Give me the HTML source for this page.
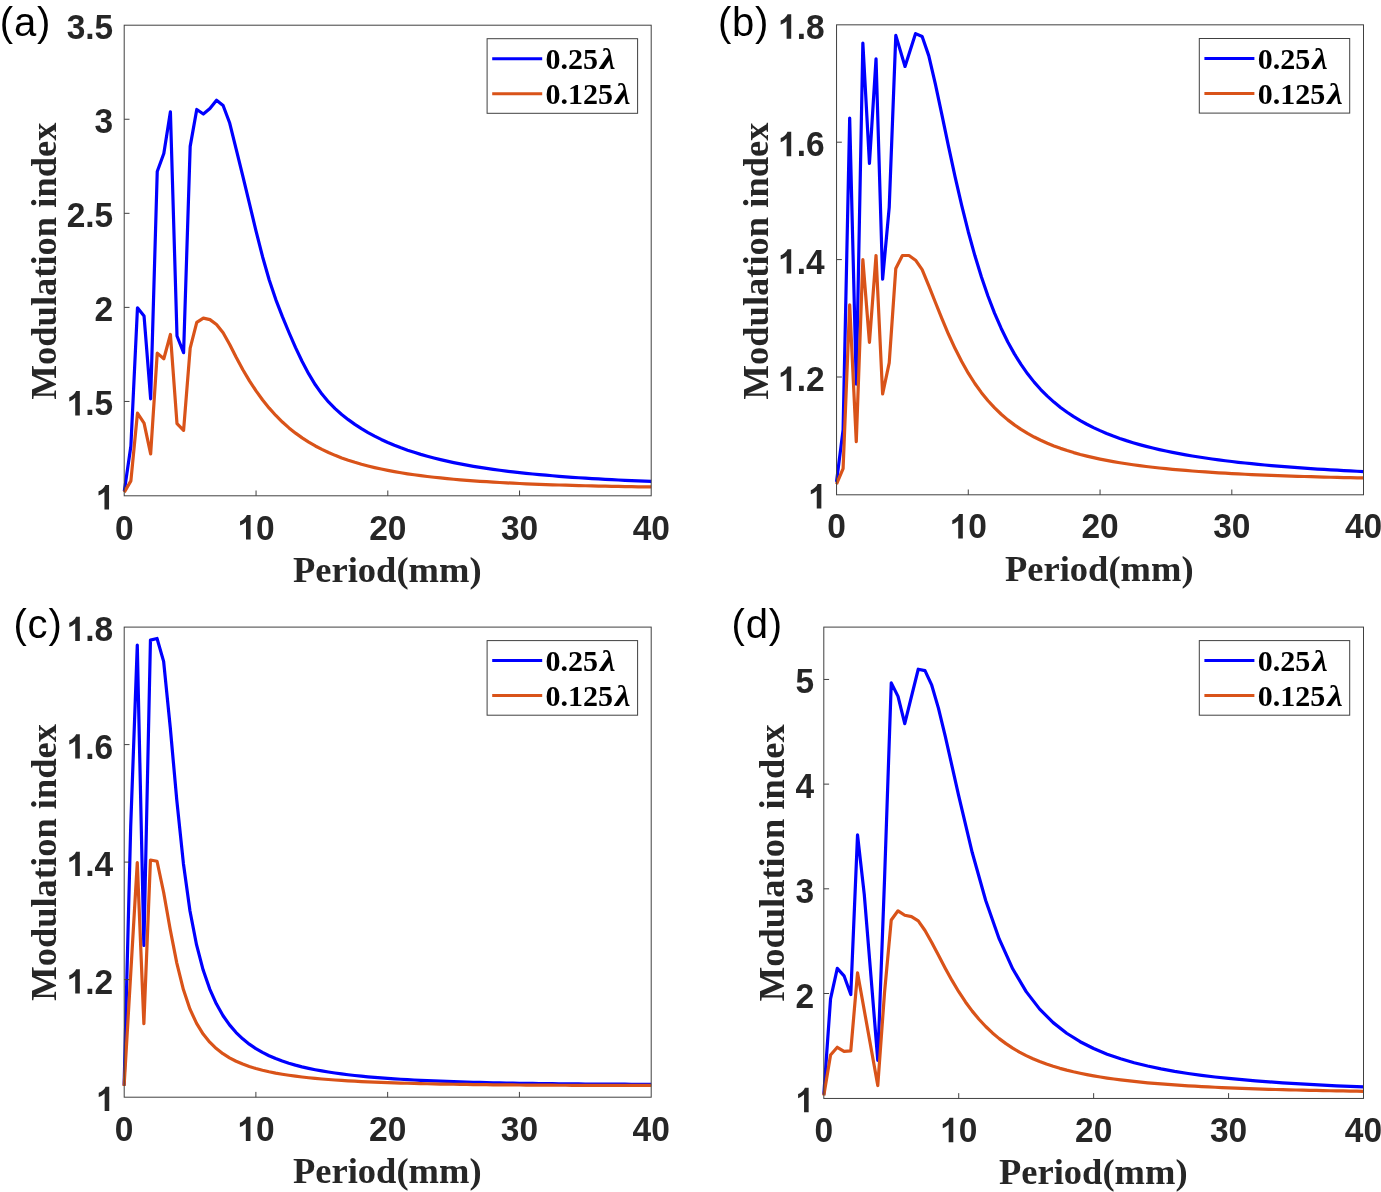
<!DOCTYPE html>
<html lang="en">
<head>
<meta charset="utf-8">
<title>Modulation index vs period</title>
<style>
html,body{margin:0;padding:0;background:#fff;}
body{width:1381px;height:1192px;overflow:hidden;font-family:"Liberation Sans",sans-serif;}
svg{display:block;will-change:transform;}
text{white-space:pre;}
</style>
</head>
<body>
<svg width="1381" height="1192" viewBox="0 0 1381 1192">
<rect x="0" y="0" width="1381" height="1192" fill="#ffffff"/>
<clipPath id="clipa"><rect x="121.80" y="24.70" width="530.00" height="471.30"/></clipPath>
<polyline clip-path="url(#clipa)" points="124.30,491.17 130.89,446.02 137.47,307.76 144.06,316.03 150.65,398.81 157.24,171.56 163.82,153.50 170.41,111.74 177.00,335.97 183.59,352.72 190.18,146.35 196.76,109.48 203.35,113.99 209.94,108.54 216.53,100.26 223.11,105.53 229.70,123.02 236.29,149.53 242.88,176.32 249.46,203.59 256.05,231.03 262.64,256.96 269.23,279.98 275.81,299.59 282.40,316.66 288.99,332.50 295.57,347.58 302.16,361.50 308.75,373.94 315.34,384.80 321.93,394.09 328.51,401.93 335.10,408.61 341.69,414.45 348.28,419.67 354.86,424.39 361.45,428.68 368.04,432.59 374.62,436.16 381.21,439.44 387.80,442.45 394.39,445.23 400.98,447.79 407.56,450.16 414.15,452.35 420.74,454.39 427.33,456.27 433.91,458.03 440.50,459.66 447.09,461.17 453.68,462.59 460.26,463.91 466.85,465.15 473.44,466.30 480.03,467.39 486.61,468.40 493.20,469.35 499.79,470.25 506.38,471.09 512.96,471.88 519.55,472.63 526.14,473.33 532.73,473.99 539.31,474.62 545.90,475.21 552.49,475.77 559.08,476.30 565.66,476.80 572.25,477.28 578.84,477.73 585.42,478.16 592.01,478.56 598.60,478.95 605.19,479.31 611.77,479.66 618.36,479.99 624.95,480.31 631.54,480.61 638.12,480.89 644.71,481.17 651.30,481.42" fill="none" stroke="#0000ff" stroke-width="3.20" stroke-linejoin="round" stroke-linecap="butt"/>
<polyline clip-path="url(#clipa)" points="124.30,492.30 130.89,480.83 137.47,413.10 144.06,423.07 150.65,453.93 157.24,353.09 163.82,358.74 170.41,334.47 177.00,423.64 183.59,430.41 190.18,348.20 196.76,322.43 203.35,318.10 209.94,319.61 216.53,324.50 223.11,332.78 229.70,344.44 236.29,357.59 242.88,369.75 249.46,380.86 256.05,390.92 262.64,399.99 269.23,408.14 275.81,415.45 282.40,422.01 288.99,427.89 295.57,433.16 302.16,437.89 308.75,442.14 315.34,445.97 321.93,449.42 328.51,452.54 335.10,455.35 341.69,457.91 348.28,460.22 354.86,462.33 361.45,464.25 368.04,465.99 374.62,467.59 381.21,469.06 387.80,470.40 394.39,471.63 400.98,472.77 407.56,473.81 414.15,474.78 420.74,475.67 427.33,476.49 433.91,477.25 440.50,477.96 447.09,478.62 453.68,479.23 460.26,479.80 466.85,480.33 473.44,480.83 480.03,481.29 486.61,481.72 493.20,482.12 499.79,482.50 506.38,482.86 512.96,483.19 519.55,483.50 526.14,483.79 532.73,484.07 539.31,484.32 545.90,484.57 552.49,484.79 559.08,485.01 565.66,485.21 572.25,485.40 578.84,485.58 585.42,485.75 592.01,485.91 598.60,486.06 605.19,486.20 611.77,486.33 618.36,486.45 624.95,486.57 631.54,486.68 638.12,486.78 644.71,486.88 651.30,486.97" fill="none" stroke="#d95319" stroke-width="3.20" stroke-linejoin="round" stroke-linecap="butt"/>
<rect x="124.20" y="25.20" width="527.00" height="470.60" fill="none" stroke="#404040" stroke-width="1.00" stroke-opacity="1.00"/>
<path d="M256.05 495.80V490.50M387.80 495.80V490.50M519.55 495.80V490.50M124.20 401.44H129.50M124.20 307.38H129.50M124.20 213.32H129.50M124.20 119.26H129.50" fill="none" stroke="#404040" stroke-width="1.00" stroke-opacity="1.00"/>
<g font-family="'Liberation Sans', sans-serif" font-weight="700" font-size="34.0px" fill="#262626">
<text transform="translate(114.99 539.50) scale(0.985 1.045)">0</text>
<path transform="translate(237.42 539.50) scale(33.490 -34.000)" d="M0.3936 0H0.2563V0.5171Q0.1812 0.4468 0.0791 0.4126V0.5371Q0.1328 0.5547 0.1958 0.6038Q0.2588 0.6528 0.2822 0.7188H0.3936Z"/><text transform="translate(256.05 539.50) scale(0.985 1.045)">0</text>
<text transform="translate(369.17 539.50) scale(0.985 1.045)">2</text><text transform="translate(387.80 539.50) scale(0.985 1.045)">0</text>
<text transform="translate(500.92 539.50) scale(0.985 1.045)">3</text><text transform="translate(519.55 539.50) scale(0.985 1.045)">0</text>
<text transform="translate(632.67 539.50) scale(0.985 1.045)">4</text><text transform="translate(651.30 539.50) scale(0.985 1.045)">0</text>
<path transform="translate(95.87 509.50) scale(33.490 -34.000)" d="M0.3936 0H0.2563V0.5171Q0.1812 0.4468 0.0791 0.4126V0.5371Q0.1328 0.5547 0.1958 0.6038Q0.2588 0.6528 0.2822 0.7188H0.3936Z"/>
<path transform="translate(66.64 415.44) scale(33.490 -34.000)" d="M0.3936 0H0.2563V0.5171Q0.1812 0.4468 0.0791 0.4126V0.5371Q0.1328 0.5547 0.1958 0.6038Q0.2588 0.6528 0.2822 0.7188H0.3936Z"/><text transform="translate(85.27 415.44) scale(0.985 1.045)">.</text><text transform="translate(94.57 415.44) scale(0.985 1.045)">5</text>
<text transform="translate(94.57 321.38) scale(0.985 1.045)">2</text>
<text transform="translate(66.64 227.32) scale(0.985 1.045)">2</text><text transform="translate(85.27 227.32) scale(0.985 1.045)">.</text><text transform="translate(94.57 227.32) scale(0.985 1.045)">5</text>
<text transform="translate(94.57 133.26) scale(0.985 1.045)">3</text>
<text transform="translate(66.64 39.20) scale(0.985 1.045)">3</text><text transform="translate(85.27 39.20) scale(0.985 1.045)">.</text><text transform="translate(94.57 39.20) scale(0.985 1.045)">5</text>
</g>
<g font-family="'Liberation Serif', serif" font-weight="700" font-size="36.5px" fill="#262626">
<text x="387.30" y="581.70" text-anchor="middle">Period(mm)</text>
<text transform="translate(55.80 261.00) rotate(-90)" text-anchor="middle">Modulation index</text>
</g>
<text x="-0.20" y="35.80" font-family="'Liberation Sans', sans-serif" font-size="40.0px" letter-spacing="0.8" fill="#000">(a)</text>
<rect x="487.10" y="38.70" width="150.50" height="74.60" fill="#fff" stroke="#404040" stroke-width="1.00" stroke-opacity="1.00"/>
<path d="M492.20 58.65H542.20" stroke="#0000ff" stroke-width="3" fill="none"/>
<path d="M492.20 93.65H542.20" stroke="#d95319" stroke-width="3" fill="none"/>
<g font-family="'Liberation Serif', serif" font-weight="700" font-size="30.0px" fill="#000">
<text x="545.50" y="69.05">0.25</text>
<text x="545.50" y="104.05">0.125</text>
<text transform="translate(600.00 69.05) scale(1.17 1)" font-style="italic">λ</text>
<text transform="translate(615.00 104.05) scale(1.17 1)" font-style="italic">λ</text>
</g>
<clipPath id="clipb"><rect x="834.00" y="24.30" width="530.10" height="470.60"/></clipPath>
<polyline clip-path="url(#clipb)" points="836.50,481.90 843.09,429.83 849.68,118.13 856.27,384.04 862.86,43.00 869.44,163.33 876.03,58.85 882.62,279.21 889.21,207.36 895.80,35.37 905.02,66.48 915.57,33.61 922.15,36.54 928.74,55.62 935.33,83.84 941.92,114.87 948.51,146.36 955.10,176.82 961.69,205.41 968.27,231.72 974.86,255.59 981.45,277.06 988.04,296.24 994.63,313.32 1001.22,328.48 1007.81,341.93 1014.40,353.86 1020.99,364.43 1027.57,373.80 1034.16,382.13 1040.75,389.53 1047.34,396.15 1053.93,402.09 1060.52,407.43 1067.11,412.26 1073.69,416.64 1080.28,420.63 1086.87,424.26 1093.46,427.59 1100.05,430.64 1106.64,433.44 1113.23,436.03 1119.82,438.42 1126.40,440.63 1132.99,442.68 1139.58,444.59 1146.17,446.36 1152.76,448.02 1159.35,449.57 1165.94,451.02 1172.53,452.37 1179.12,453.65 1185.70,454.85 1192.29,455.97 1198.88,457.04 1205.47,458.04 1212.06,458.98 1218.65,459.88 1225.24,460.73 1231.82,461.53 1238.41,462.29 1245.00,463.01 1251.59,463.70 1258.18,464.35 1264.77,464.98 1271.36,465.57 1277.95,466.13 1284.53,466.67 1291.12,467.19 1297.71,467.68 1304.30,468.15 1310.89,468.60 1317.48,469.03 1324.07,469.44 1330.66,469.84 1337.24,470.22 1343.83,470.58 1350.42,470.93 1357.01,471.27 1363.60,471.59" fill="none" stroke="#0000ff" stroke-width="3.20" stroke-linejoin="round" stroke-linecap="butt"/>
<polyline clip-path="url(#clipb)" points="836.50,484.24 843.09,468.57 849.68,304.80 856.27,441.57 862.86,259.60 869.44,342.37 876.03,255.49 882.62,394.02 889.21,362.91 895.80,268.41 902.39,255.49 908.98,255.49 915.57,260.19 922.15,269.58 928.74,285.66 935.33,302.28 941.92,318.71 948.51,334.26 955.10,348.58 961.69,361.55 968.27,373.17 974.86,383.51 981.45,392.66 988.04,400.75 994.63,407.89 1001.22,414.23 1007.81,419.86 1014.40,424.88 1020.99,429.37 1027.57,433.40 1034.16,437.03 1040.75,440.29 1047.34,443.25 1053.93,445.93 1060.52,448.36 1067.11,450.57 1073.69,452.59 1080.28,454.44 1086.87,456.13 1093.46,457.68 1100.05,459.11 1106.64,460.42 1113.23,461.64 1119.82,462.76 1126.40,463.79 1132.99,464.76 1139.58,465.65 1146.17,466.49 1152.76,467.26 1159.35,467.99 1165.94,468.67 1172.53,469.30 1179.12,469.90 1185.70,470.46 1192.29,470.98 1198.88,471.48 1205.47,471.94 1212.06,472.38 1218.65,472.80 1225.24,473.19 1231.82,473.56 1238.41,473.90 1245.00,474.23 1251.59,474.55 1258.18,474.84 1264.77,475.12 1271.36,475.39 1277.95,475.64 1284.53,475.88 1291.12,476.10 1297.71,476.32 1304.30,476.52 1310.89,476.72 1317.48,476.90 1324.07,477.08 1330.66,477.24 1337.24,477.40 1343.83,477.55 1350.42,477.70 1357.01,477.83 1363.60,477.96" fill="none" stroke="#d95319" stroke-width="3.20" stroke-linejoin="round" stroke-linecap="butt"/>
<rect x="836.55" y="24.83" width="526.95" height="469.97" fill="none" stroke="#404040" stroke-width="1.00" stroke-opacity="1.00"/>
<path d="M968.27 494.80V489.50M1100.05 494.80V489.50M1231.82 494.80V489.50M836.55 377.00H841.85M836.55 259.60H841.85M836.55 142.20H841.85" fill="none" stroke="#404040" stroke-width="1.00" stroke-opacity="1.00"/>
<g font-family="'Liberation Sans', sans-serif" font-weight="700" font-size="34.0px" fill="#262626">
<text transform="translate(827.19 538.40) scale(0.985 1.045)">0</text>
<path transform="translate(949.65 538.40) scale(33.490 -34.000)" d="M0.3936 0H0.2563V0.5171Q0.1812 0.4468 0.0791 0.4126V0.5371Q0.1328 0.5547 0.1958 0.6038Q0.2588 0.6528 0.2822 0.7188H0.3936Z"/><text transform="translate(968.28 538.40) scale(0.985 1.045)">0</text>
<text transform="translate(1081.42 538.40) scale(0.985 1.045)">2</text><text transform="translate(1100.05 538.40) scale(0.985 1.045)">0</text>
<text transform="translate(1213.20 538.40) scale(0.985 1.045)">3</text><text transform="translate(1231.82 538.40) scale(0.985 1.045)">0</text>
<text transform="translate(1344.97 538.40) scale(0.985 1.045)">4</text><text transform="translate(1363.60 538.40) scale(0.985 1.045)">0</text>
<path transform="translate(808.17 508.40) scale(33.490 -34.000)" d="M0.3936 0H0.2563V0.5171Q0.1812 0.4468 0.0791 0.4126V0.5371Q0.1328 0.5547 0.1958 0.6038Q0.2588 0.6528 0.2822 0.7188H0.3936Z"/>
<path transform="translate(778.04 391.00) scale(33.490 -34.000)" d="M0.3936 0H0.2563V0.5171Q0.1812 0.4468 0.0791 0.4126V0.5371Q0.1328 0.5547 0.1958 0.6038Q0.2588 0.6528 0.2822 0.7188H0.3936Z"/><text transform="translate(796.67 391.00) scale(0.985 1.045)">.</text><text transform="translate(805.97 391.00) scale(0.985 1.045)">2</text>
<path transform="translate(778.04 273.60) scale(33.490 -34.000)" d="M0.3936 0H0.2563V0.5171Q0.1812 0.4468 0.0791 0.4126V0.5371Q0.1328 0.5547 0.1958 0.6038Q0.2588 0.6528 0.2822 0.7188H0.3936Z"/><text transform="translate(796.67 273.60) scale(0.985 1.045)">.</text><text transform="translate(805.97 273.60) scale(0.985 1.045)">4</text>
<path transform="translate(778.04 156.20) scale(33.490 -34.000)" d="M0.3936 0H0.2563V0.5171Q0.1812 0.4468 0.0791 0.4126V0.5371Q0.1328 0.5547 0.1958 0.6038Q0.2588 0.6528 0.2822 0.7188H0.3936Z"/><text transform="translate(796.67 156.20) scale(0.985 1.045)">.</text><text transform="translate(805.97 156.20) scale(0.985 1.045)">6</text>
<path transform="translate(778.04 38.80) scale(33.490 -34.000)" d="M0.3936 0H0.2563V0.5171Q0.1812 0.4468 0.0791 0.4126V0.5371Q0.1328 0.5547 0.1958 0.6038Q0.2588 0.6528 0.2822 0.7188H0.3936Z"/><text transform="translate(796.67 38.80) scale(0.985 1.045)">.</text><text transform="translate(805.97 38.80) scale(0.985 1.045)">8</text>
</g>
<g font-family="'Liberation Serif', serif" font-weight="700" font-size="36.5px" fill="#262626">
<text x="1099.30" y="581.10" text-anchor="middle">Period(mm)</text>
<text transform="translate(767.90 261.00) rotate(-90)" text-anchor="middle">Modulation index</text>
</g>
<text x="717.90" y="35.70" font-family="'Liberation Sans', sans-serif" font-size="40.0px" letter-spacing="0.8" fill="#000">(b)</text>
<rect x="1199.30" y="38.50" width="150.40" height="74.60" fill="#fff" stroke="#404040" stroke-width="1.00" stroke-opacity="1.00"/>
<path d="M1204.40 58.45H1254.40" stroke="#0000ff" stroke-width="3" fill="none"/>
<path d="M1204.40 93.45H1254.40" stroke="#d95319" stroke-width="3" fill="none"/>
<g font-family="'Liberation Serif', serif" font-weight="700" font-size="30.0px" fill="#000">
<text x="1257.70" y="68.85">0.25</text>
<text x="1257.70" y="103.85">0.125</text>
<text transform="translate(1312.20 68.85) scale(1.17 1)" font-style="italic">λ</text>
<text transform="translate(1327.20 103.85) scale(1.17 1)" font-style="italic">λ</text>
</g>
<clipPath id="clipc"><rect x="121.60" y="626.60" width="530.10" height="471.00"/></clipPath>
<polyline clip-path="url(#clipc)" points="124.10,1085.35 130.69,826.85 137.28,645.14 143.87,945.52 150.45,640.14 157.04,638.50 163.63,661.41 170.22,726.98 176.81,800.41 183.40,863.45 189.99,910.95 196.58,944.95 203.16,970.04 209.75,989.07 216.34,1003.82 222.93,1015.49 229.52,1024.87 236.11,1032.53 242.70,1038.86 249.29,1044.15 255.88,1048.63 262.46,1052.44 269.05,1055.72 275.64,1058.56 282.23,1061.04 288.82,1063.21 295.41,1065.13 302.00,1066.83 308.59,1068.34 315.17,1069.70 321.76,1070.92 328.35,1072.02 334.94,1073.01 341.53,1073.91 348.12,1074.73 354.71,1075.48 361.29,1076.16 367.88,1076.79 374.47,1077.36 381.06,1077.89 387.65,1078.38 394.24,1078.83 400.83,1079.25 407.42,1079.63 414.00,1079.99 420.59,1080.32 427.18,1080.63 433.77,1080.92 440.36,1081.18 446.95,1081.43 453.54,1081.66 460.13,1081.88 466.72,1082.08 473.30,1082.26 479.89,1082.44 486.48,1082.60 493.07,1082.75 499.66,1082.89 506.25,1083.02 512.84,1083.14 519.42,1083.26 526.01,1083.36 532.60,1083.46 539.19,1083.55 545.78,1083.63 552.37,1083.71 558.96,1083.78 565.55,1083.85 572.13,1083.90 578.72,1083.96 585.31,1084.01 591.90,1084.05 598.49,1084.09 605.08,1084.13 611.67,1084.16 618.26,1084.18 624.85,1084.21 631.43,1084.23 638.02,1084.24 644.61,1084.25 651.20,1084.26" fill="none" stroke="#0000ff" stroke-width="3.20" stroke-linejoin="round" stroke-linecap="butt"/>
<polyline clip-path="url(#clipc)" points="124.10,1086.00 137.28,862.57 143.87,1023.66 150.45,860.04 157.04,861.22 163.63,892.24 170.22,929.47 176.81,963.08 183.40,989.55 189.99,1009.15 196.58,1023.42 203.16,1034.06 209.75,1042.20 216.34,1048.59 222.93,1053.68 229.52,1057.82 236.11,1061.23 242.70,1064.08 249.29,1066.48 255.88,1068.52 262.46,1070.27 269.05,1071.79 275.64,1073.11 282.23,1074.27 288.82,1075.29 295.41,1076.20 302.00,1077.01 308.59,1077.74 315.17,1078.39 321.76,1078.98 328.35,1079.51 334.94,1080.00 341.53,1080.44 348.12,1080.84 354.71,1081.21 361.29,1081.55 367.88,1081.86 374.47,1082.14 381.06,1082.41 387.65,1082.65 394.24,1082.87 400.83,1083.08 407.42,1083.27 414.00,1083.45 420.59,1083.61 427.18,1083.76 433.77,1083.90 440.36,1084.04 446.95,1084.16 453.54,1084.27 460.13,1084.37 466.72,1084.47 473.30,1084.56 479.89,1084.64 486.48,1084.72 493.07,1084.79 499.66,1084.86 506.25,1084.92 512.84,1084.97 519.42,1085.02 526.01,1085.07 532.60,1085.11 539.19,1085.15 545.78,1085.18 552.37,1085.21 558.96,1085.24 565.55,1085.26 572.13,1085.29 578.72,1085.30 585.31,1085.32 591.90,1085.33 598.49,1085.34 605.08,1085.35 611.67,1085.36 618.26,1085.36 624.85,1085.36 631.43,1085.36 638.02,1085.36 644.61,1085.35 651.20,1085.35" fill="none" stroke="#d95319" stroke-width="3.20" stroke-linejoin="round" stroke-linecap="butt"/>
<rect x="124.20" y="627.10" width="527.00" height="470.10" fill="none" stroke="#404040" stroke-width="1.00" stroke-opacity="1.00"/>
<path d="M255.88 1097.20V1091.90M387.65 1097.20V1091.90M519.42 1097.20V1091.90M124.20 979.60H129.50M124.20 862.10H129.50M124.20 744.60H129.50" fill="none" stroke="#404040" stroke-width="1.00" stroke-opacity="1.00"/>
<g font-family="'Liberation Sans', sans-serif" font-weight="700" font-size="34.0px" fill="#262626">
<text transform="translate(114.79 1141.10) scale(0.985 1.045)">0</text>
<path transform="translate(237.25 1141.10) scale(33.490 -34.000)" d="M0.3936 0H0.2563V0.5171Q0.1812 0.4468 0.0791 0.4126V0.5371Q0.1328 0.5547 0.1958 0.6038Q0.2588 0.6528 0.2822 0.7188H0.3936Z"/><text transform="translate(255.88 1141.10) scale(0.985 1.045)">0</text>
<text transform="translate(369.02 1141.10) scale(0.985 1.045)">2</text><text transform="translate(387.65 1141.10) scale(0.985 1.045)">0</text>
<text transform="translate(500.80 1141.10) scale(0.985 1.045)">3</text><text transform="translate(519.42 1141.10) scale(0.985 1.045)">0</text>
<text transform="translate(632.57 1141.10) scale(0.985 1.045)">4</text><text transform="translate(651.20 1141.10) scale(0.985 1.045)">0</text>
<path transform="translate(96.07 1111.10) scale(33.490 -34.000)" d="M0.3936 0H0.2563V0.5171Q0.1812 0.4468 0.0791 0.4126V0.5371Q0.1328 0.5547 0.1958 0.6038Q0.2588 0.6528 0.2822 0.7188H0.3936Z"/>
<path transform="translate(66.64 993.60) scale(33.490 -34.000)" d="M0.3936 0H0.2563V0.5171Q0.1812 0.4468 0.0791 0.4126V0.5371Q0.1328 0.5547 0.1958 0.6038Q0.2588 0.6528 0.2822 0.7188H0.3936Z"/><text transform="translate(85.27 993.60) scale(0.985 1.045)">.</text><text transform="translate(94.57 993.60) scale(0.985 1.045)">2</text>
<path transform="translate(66.64 876.10) scale(33.490 -34.000)" d="M0.3936 0H0.2563V0.5171Q0.1812 0.4468 0.0791 0.4126V0.5371Q0.1328 0.5547 0.1958 0.6038Q0.2588 0.6528 0.2822 0.7188H0.3936Z"/><text transform="translate(85.27 876.10) scale(0.985 1.045)">.</text><text transform="translate(94.57 876.10) scale(0.985 1.045)">4</text>
<path transform="translate(66.64 758.60) scale(33.490 -34.000)" d="M0.3936 0H0.2563V0.5171Q0.1812 0.4468 0.0791 0.4126V0.5371Q0.1328 0.5547 0.1958 0.6038Q0.2588 0.6528 0.2822 0.7188H0.3936Z"/><text transform="translate(85.27 758.60) scale(0.985 1.045)">.</text><text transform="translate(94.57 758.60) scale(0.985 1.045)">6</text>
<path transform="translate(66.64 641.10) scale(33.490 -34.000)" d="M0.3936 0H0.2563V0.5171Q0.1812 0.4468 0.0791 0.4126V0.5371Q0.1328 0.5547 0.1958 0.6038Q0.2588 0.6528 0.2822 0.7188H0.3936Z"/><text transform="translate(85.27 641.10) scale(0.985 1.045)">.</text><text transform="translate(94.57 641.10) scale(0.985 1.045)">8</text>
</g>
<g font-family="'Liberation Serif', serif" font-weight="700" font-size="36.5px" fill="#262626">
<text x="387.30" y="1182.90" text-anchor="middle">Period(mm)</text>
<text transform="translate(55.90 862.40) rotate(-90)" text-anchor="middle">Modulation index</text>
</g>
<text x="13.50" y="638.00" font-family="'Liberation Sans', sans-serif" font-size="40.0px" letter-spacing="0.8" fill="#000">(c)</text>
<rect x="487.10" y="640.60" width="150.50" height="74.60" fill="#fff" stroke="#404040" stroke-width="1.00" stroke-opacity="1.00"/>
<path d="M492.20 660.55H542.20" stroke="#0000ff" stroke-width="3" fill="none"/>
<path d="M492.20 695.55H542.20" stroke="#d95319" stroke-width="3" fill="none"/>
<g font-family="'Liberation Serif', serif" font-weight="700" font-size="30.0px" fill="#000">
<text x="545.50" y="670.95">0.25</text>
<text x="545.50" y="705.95">0.125</text>
<text transform="translate(600.00 670.95) scale(1.17 1)" font-style="italic">λ</text>
<text transform="translate(615.00 705.95) scale(1.17 1)" font-style="italic">λ</text>
</g>
<clipPath id="clipd"><rect x="821.30" y="626.60" width="542.70" height="472.10"/></clipPath>
<polyline clip-path="url(#clipd)" points="823.80,1094.54 830.55,998.95 837.29,968.39 844.04,975.82 850.78,994.56 857.53,834.91 864.28,894.58 871.02,976.76 877.77,1060.35 884.52,879.92 891.26,682.90 898.01,696.40 904.75,723.62 911.50,696.40 918.25,669.24 924.99,670.65 931.74,685.20 938.49,708.36 945.23,736.02 958.72,795.88 972.22,852.53 985.71,900.54 999.20,938.96 1012.69,968.79 1026.19,991.64 1039.68,1009.11 1053.17,1022.63 1066.66,1033.25 1080.16,1041.71 1093.65,1048.55 1107.14,1054.17 1120.63,1058.82 1134.13,1062.73 1147.62,1066.05 1161.11,1068.89 1174.61,1071.34 1188.10,1073.47 1201.59,1075.33 1215.08,1076.97 1228.58,1078.42 1242.07,1079.71 1255.56,1080.87 1269.05,1081.91 1282.55,1082.85 1296.04,1083.70 1309.53,1084.47 1323.02,1085.18 1336.51,1085.82 1350.01,1086.42 1363.50,1086.96" fill="none" stroke="#0000ff" stroke-width="3.20" stroke-linejoin="round" stroke-linecap="butt"/>
<polyline clip-path="url(#clipd)" points="823.80,1095.58 830.55,1054.96 837.29,1047.27 844.04,1051.30 850.78,1050.88 857.53,972.78 877.77,1085.53 884.52,992.88 891.26,919.97 898.01,910.81 904.75,915.28 911.50,916.68 918.25,920.86 924.99,930.46 931.74,942.44 938.49,955.33 945.23,968.17 951.98,980.40 958.72,991.70 965.47,1001.95 972.22,1011.12 978.96,1019.27 985.71,1026.51 992.46,1032.93 999.20,1038.61 1005.95,1043.65 1012.69,1048.11 1019.44,1052.08 1026.19,1055.61 1032.93,1058.75 1039.68,1061.56 1046.43,1064.07 1053.17,1066.32 1059.92,1068.34 1066.66,1070.16 1073.41,1071.81 1080.16,1073.30 1086.90,1074.66 1093.65,1075.90 1100.40,1077.03 1107.14,1078.07 1113.89,1079.03 1120.63,1079.90 1127.38,1080.71 1134.13,1081.46 1140.87,1082.15 1147.62,1082.80 1154.37,1083.39 1161.11,1083.95 1167.86,1084.46 1174.61,1084.94 1181.35,1085.40 1188.10,1085.82 1194.84,1086.21 1201.59,1086.58 1208.34,1086.93 1215.08,1087.26 1221.83,1087.56 1228.58,1087.85 1235.32,1088.13 1242.07,1088.38 1248.81,1088.63 1255.56,1088.86 1262.31,1089.07 1269.05,1089.28 1275.80,1089.48 1282.55,1089.66 1289.29,1089.84 1296.04,1090.01 1302.78,1090.16 1309.53,1090.32 1316.28,1090.46 1323.02,1090.60 1329.77,1090.73 1336.51,1090.85 1343.26,1090.97 1350.01,1091.08 1356.75,1091.19 1363.50,1091.29" fill="none" stroke="#d95319" stroke-width="3.20" stroke-linejoin="round" stroke-linecap="butt"/>
<rect x="823.80" y="627.10" width="539.70" height="471.35" fill="none" stroke="#404040" stroke-width="1.00" stroke-opacity="1.00"/>
<path d="M958.72 1098.45V1093.15M1093.65 1098.45V1093.15M1228.58 1098.45V1093.15M823.80 993.51H829.10M823.80 888.82H829.10M823.80 784.13H829.10M823.80 679.44H829.10" fill="none" stroke="#404040" stroke-width="1.00" stroke-opacity="1.00"/>
<g font-family="'Liberation Sans', sans-serif" font-weight="700" font-size="34.0px" fill="#262626">
<text transform="translate(814.49 1142.20) scale(0.985 1.045)">0</text>
<path transform="translate(940.10 1142.20) scale(33.490 -34.000)" d="M0.3936 0H0.2563V0.5171Q0.1812 0.4468 0.0791 0.4126V0.5371Q0.1328 0.5547 0.1958 0.6038Q0.2588 0.6528 0.2822 0.7188H0.3936Z"/><text transform="translate(958.72 1142.20) scale(0.985 1.045)">0</text>
<text transform="translate(1075.02 1142.20) scale(0.985 1.045)">2</text><text transform="translate(1093.65 1142.20) scale(0.985 1.045)">0</text>
<text transform="translate(1209.95 1142.20) scale(0.985 1.045)">3</text><text transform="translate(1228.58 1142.20) scale(0.985 1.045)">0</text>
<text transform="translate(1344.87 1142.20) scale(0.985 1.045)">4</text><text transform="translate(1363.50 1142.20) scale(0.985 1.045)">0</text>
<path transform="translate(795.47 1112.20) scale(33.490 -34.000)" d="M0.3936 0H0.2563V0.5171Q0.1812 0.4468 0.0791 0.4126V0.5371Q0.1328 0.5547 0.1958 0.6038Q0.2588 0.6528 0.2822 0.7188H0.3936Z"/>
<text transform="translate(795.47 1007.51) scale(0.985 1.045)">2</text>
<text transform="translate(795.47 902.82) scale(0.985 1.045)">3</text>
<text transform="translate(795.47 798.13) scale(0.985 1.045)">4</text>
<text transform="translate(795.47 693.44) scale(0.985 1.045)">5</text>
</g>
<g font-family="'Liberation Serif', serif" font-weight="700" font-size="36.5px" fill="#262626">
<text x="1093.30" y="1184.00" text-anchor="middle">Period(mm)</text>
<text transform="translate(784.10 862.80) rotate(-90)" text-anchor="middle">Modulation index</text>
</g>
<text x="731.60" y="637.90" font-family="'Liberation Sans', sans-serif" font-size="40.0px" letter-spacing="0.8" fill="#000">(d)</text>
<rect x="1199.30" y="640.60" width="150.40" height="74.60" fill="#fff" stroke="#404040" stroke-width="1.00" stroke-opacity="1.00"/>
<path d="M1204.40 660.55H1254.40" stroke="#0000ff" stroke-width="3" fill="none"/>
<path d="M1204.40 695.55H1254.40" stroke="#d95319" stroke-width="3" fill="none"/>
<g font-family="'Liberation Serif', serif" font-weight="700" font-size="30.0px" fill="#000">
<text x="1257.70" y="670.95">0.25</text>
<text x="1257.70" y="705.95">0.125</text>
<text transform="translate(1312.20 670.95) scale(1.17 1)" font-style="italic">λ</text>
<text transform="translate(1327.20 705.95) scale(1.17 1)" font-style="italic">λ</text>
</g>
</svg>
</body>
</html>
